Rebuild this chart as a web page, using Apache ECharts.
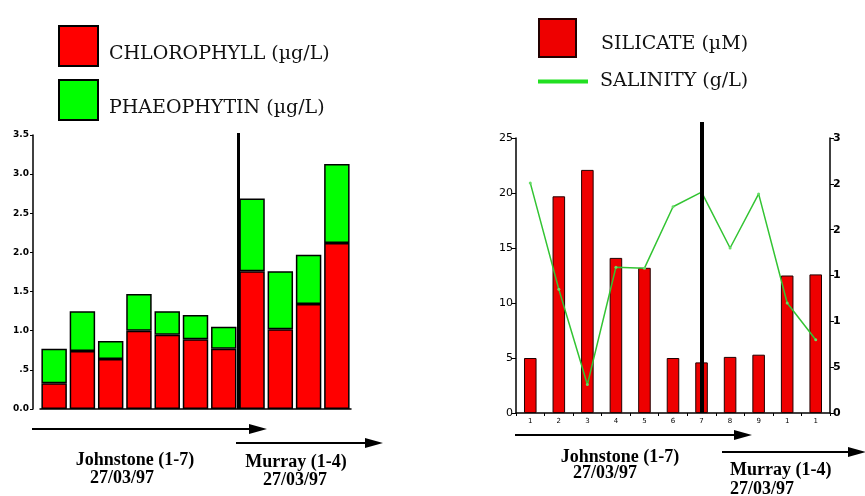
<!DOCTYPE html>
<html><head><meta charset="utf-8">
<script src="https://cdn.jsdelivr.net/npm/echarts@6/dist/echarts.min.js"></script>
<style>html,body{margin:0;padding:0;background:#fff}#c{width:865px;height:496px}</style>
</head><body><div id="c"></div>
<script>
// ---- data ----
const leftStations = ['1','2','3','4','5','6','7','8','9','10','11'];
const chlorophyll = [0.33, 0.74, 0.64, 1.00, 0.95, 0.89, 0.77, 1.76, 1.02, 1.34, 2.12];
const phaeophytin = [0.44, 0.51, 0.23, 0.47, 0.30, 0.31, 0.28, 0.93, 0.74, 0.63, 1.01];
const leftYTickLabels = ['0.0', '.5', '1.0', '1.5', '2.0', '2.5', '3.0', '3.5'];
const johnstoneCount = 7;

const rightStations = ['1','2','3','4','5','6','7','8','9','10','11'];
const rightXTickLabels = ['1','2','3','4','5','6','7','8','9','1','1'];
const silicate = [5.0, 19.7, 22.1, 14.1, 13.2, 5.0, 4.6, 5.1, 5.3, 12.5, 12.6];
const salinity = [2.51, 1.35, 0.31, 1.59, 1.58, 2.25, 2.41, 1.80, 2.39, 1.20, 0.80];
const rightY2TickLabels = ['0', '5', '1', '1', '2', '2', '3'];
const rightDividerStation = 7;

const legendLeft = ['CHLOROPHYLL (µg/L)', 'PHAEOPHYTIN (µg/L)'];
const legendRight = ['SILICATE (µM)', 'SALINITY (g/L)'];

// ---- styles ----
const RED = '#ff0000', GREEN = '#00ff00', BLACK = '#000';
const axisFont = {color: BLACK, fontFamily: 'DejaVu Sans', fontSize: 9, fontWeight: 'bold'};
const legFontL = {color: '#111', fontFamily: 'DejaVu Serif', fontSize: 19, lineHeight: 16, padding: [0, 0, 0, 6]};
const legFontR = {color: '#111', fontFamily: 'DejaVu Serif', fontSize: 19, lineHeight: 12, padding: [0, 0, 0, 20]};
const legFontR2 = {color: '#111', fontFamily: 'DejaVu Serif', fontSize: 19, padding: [0, 0, 0, 7]};
const annFont = {fill: '#000', fontFamily: 'Liberation Serif', fontSize: 18, fontWeight: 'bold'};

function arrow(x1, x2, y) {
  return [
    {type: 'line', shape: {x1: x1, y1: y, x2: x2 - 14, y2: y}, style: {stroke: '#000', lineWidth: 2}},
    {type: 'polygon', shape: {points: [[x2 - 18, y - 5], [x2, y], [x2 - 18, y + 5]]}, style: {fill: '#000'}}
  ];
}
function txt(x, y, s, align) {
  return {type: 'text', x: x, y: y, style: Object.assign({text: s, align: align || 'center', verticalAlign: 'middle'}, annFont)};
}
const lowered = (name) => '\n' + name;

const chart = echarts.init(document.getElementById('c'));
chart.setOption({
  animation: false,
  backgroundColor: '#fff',
  legend: [
    {data: legendLeft, left: 58, top: 25, padding: 0, orient: 'vertical', itemWidth: 39, itemHeight: 40, itemGap: 12,
     icon: 'rect', formatter: lowered, textStyle: legFontL, selectedMode: false},
    {data: [legendRight[0]], left: 538, top: 18, padding: 0, itemWidth: 37, itemHeight: 38, icon: 'rect',
     formatter: lowered, textStyle: legFontR, selectedMode: false},
    {data: [{name: legendRight[1], icon: 'rect', itemStyle: {color: '#22e022', borderWidth: 0}}],
     left: 538, top: 72, padding: 0, itemWidth: 50, itemHeight: 4,
     textStyle: legFontR2, selectedMode: false}
  ],
  grid: [
    {left: 40, top: 135, width: 311, height: 274},
    {left: 40, top: 133, width: 311, height: 276},
    {left: 516, top: 138, width: 314, height: 275},
    {left: 516, top: 122, width: 314, height: 291}
  ],
  xAxis: [
    {type: 'category', gridIndex: 0, data: leftStations,
     axisLine: {lineStyle: {color: BLACK, width: 1.5}}, axisTick: {show: false}, axisLabel: {show: false}},
    {type: 'value', gridIndex: 1, min: 0, max: leftStations.length, show: false},
    {type: 'category', gridIndex: 2, data: rightStations,
     axisLine: {lineStyle: {color: BLACK, width: 1.5}},
     axisTick: {show: true, length: 3, lineStyle: {color: BLACK}},
     axisLabel: {formatter: (v, i) => rightXTickLabels[i], color: BLACK, fontFamily: 'DejaVu Sans', fontSize: 7, margin: 5}},
    {type: 'value', gridIndex: 3, min: 0, max: rightStations.length, show: false}
  ],
  yAxis: [
    {type: 'value', gridIndex: 0, min: 0, max: 3.5, interval: 0.5, offset: 7,
     axisLine: {show: true, lineStyle: {color: BLACK, width: 1.5}},
     axisTick: {show: true, length: 3, lineStyle: {color: BLACK}},
     axisLabel: Object.assign({formatter: (v) => leftYTickLabels[Math.round(v / 0.5)], margin: 4}, axisFont),
     splitLine: {show: false}},
    {type: 'value', gridIndex: 1, min: 0, max: 1, show: false},
    {type: 'value', gridIndex: 2, min: 0, max: 25, interval: 5,
     axisLine: {show: true, lineStyle: {color: BLACK, width: 1.5}},
     axisTick: {show: true, length: 4, lineStyle: {color: BLACK}},
     axisLabel: {color: BLACK, fontFamily: 'DejaVu Sans', fontSize: 11, margin: 3},
     splitLine: {show: false}},
    {type: 'value', gridIndex: 2, min: 0, max: 3, interval: 0.5, position: 'right',
     axisLine: {show: true, lineStyle: {color: BLACK, width: 1.5}},
     axisTick: {show: true, length: 4, lineStyle: {color: BLACK}},
     axisLabel: {formatter: (v) => rightY2TickLabels[Math.round(v / 0.5)], color: BLACK, fontFamily: 'DejaVu Sans', fontSize: 11, fontWeight: 'bold', margin: 3},
     splitLine: {show: false}},
    {type: 'value', gridIndex: 3, min: 0, max: 1, show: false}
  ],
  series: [
    {name: legendLeft[0], type: 'bar', xAxisIndex: 0, yAxisIndex: 0, stack: 'pig', data: chlorophyll,
     barCategoryGap: '10%', itemStyle: {color: RED, borderColor: BLACK, borderWidth: 1.5}},
    {name: legendLeft[1], type: 'bar', xAxisIndex: 0, yAxisIndex: 0, stack: 'pig', data: phaeophytin,
     barCategoryGap: '10%', itemStyle: {color: GREEN, borderColor: BLACK, borderWidth: 1.5}},
    {type: 'line', xAxisIndex: 1, yAxisIndex: 1, data: [], silent: true,
     markLine: {symbol: 'none', silent: true, label: {show: false},
       lineStyle: {color: BLACK, width: 3, type: 'solid'}, data: [{xAxis: johnstoneCount}]}},
    {name: legendRight[0], type: 'bar', xAxisIndex: 2, yAxisIndex: 2, data: silicate, barWidth: '44%',
     itemStyle: {color: '#ee0000', borderColor: '#220000', borderWidth: 1}},
    {name: legendRight[1], type: 'line', xAxisIndex: 2, yAxisIndex: 3, data: salinity,
     color: '#33c433', lineStyle: {width: 1.5, color: '#33c433'}, symbol: 'circle', symbolSize: 3,
     itemStyle: {color: '#66dd66'}},
    {type: 'line', xAxisIndex: 3, yAxisIndex: 4, data: [], silent: true, z: 5,
     markLine: {symbol: 'none', silent: true, label: {show: false},
       lineStyle: {color: BLACK, width: 4, type: 'solid'}, data: [{xAxis: rightDividerStation - 0.5}]}}
  ],
  graphic: [].concat(
    arrow(32, 267, 429), arrow(236, 383, 443),
    arrow(515, 752, 435), arrow(722, 866, 452),
    [txt(135, 460, 'Johnstone (1-7)'), txt(122, 478, '27/03/97'),
     txt(296, 462, 'Murray (1-4)'), txt(295, 480, '27/03/97'),
     txt(620, 457, 'Johnstone (1-7)'), txt(605, 473, '27/03/97'),
     txt(730, 470, 'Murray (1-4)', 'left'), txt(730, 489, '27/03/97', 'left')]
  )
});
</script></body></html>
